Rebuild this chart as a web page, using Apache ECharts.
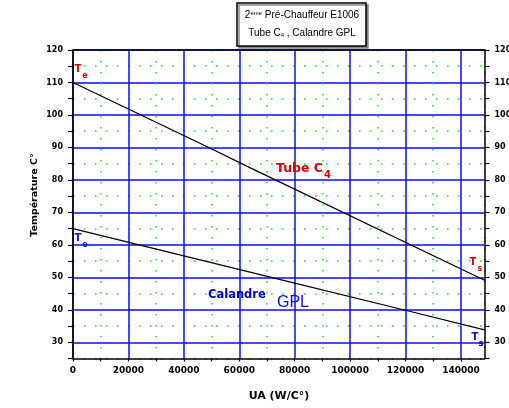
<!DOCTYPE html>
<html><head><meta charset="utf-8">
<script src="https://cdn.jsdelivr.net/npm/echarts@6/dist/echarts.min.js"></script>
<style>html,body{margin:0;padding:0;background:#fff}#c{width:509px;height:408px}</style>
</head><body><div id="c"></div>
<script>
// ---- data ----
const tubeUA   = [0, 49000, 64000, 148500];
const tubeTemp = [110, 90, 83.7, 49.1];
const calUA    = [0, 80000, 120700, 148500];
const calTemp  = [65, 48.2, 39.7, 33.8];
const xMin = 0, xMax = 148500, xStep = 10000, xLabelStep = 20000;
const yMin = 25, yMax = 120, yStep = 5, yLabelStep = 10;
const titleLine1 = ['2', 'ème', ' Pré-Chauffeur E1006'];
const titleLine2 = ['Tube C', '4', ' , Calandre GPL'];
const xName = 'UA (W/C°)';
const yName = 'Température C°';

const BLUE = '#0b0bff', GREEN = '#22e022', RED = '#e00000', TR = 'rgba(0,0,0,0)';
const BF = 'DejaVu Sans';

const chart = echarts.init(document.getElementById('c'), null, {renderer: 'canvas'});
const xLab = v => (v % xLabelStep === 0 ? String(v) : '');
const yLab = v => (Math.abs(v % yLabelStep) < 1e-9 ? String(v) : '');
const axisLineStyle = {color: '#000', width: 1.5};

chart.setOption({
  animation: false,
  grid: {left: 73, right: 24.5, top: 50, bottom: 49.5, containLabel: false, outerBoundsMode: 'none'},
  xAxis: [{
    type: 'value', position: 'bottom', min: xMin, max: xMax, interval: xStep,
    axisLine: {show: true, onZero: false, lineStyle: axisLineStyle},
    axisTick: {show: true, inside: false, length: 3, lineStyle: {color: '#000', width: 1.2}},
    axisLabel: {formatter: xLab, showMaxLabel: false, margin: 8, color: '#000', fontFamily: BF, fontWeight: 'bold', fontSize: 9},
    splitLine: {show: true, lineStyle: {color: [BLUE, TR], width: 1.5}}
  }, {
    type: 'value', position: 'top', min: xMin, max: xMax, interval: xStep,
    axisLine: {show: true, onZero: false, lineStyle: axisLineStyle},
    axisTick: {show: false}, axisLabel: {show: false},
    splitLine: {show: true, lineStyle: {color: [TR, GREEN], width: 1.5, type: [1.5, 9.5]}}
  }],
  yAxis: [{
    type: 'value', position: 'left', min: yMin, max: yMax, interval: yStep,
    axisLine: {show: true, onZero: false, lineStyle: axisLineStyle},
    axisTick: {show: true, inside: false, length: 5, lineStyle: {color: '#000', width: 1.2}},
    axisLabel: {formatter: yLab, margin: 10, color: '#000', fontFamily: BF, fontWeight: 'bold', fontSize: 8},
    splitLine: {show: true, lineStyle: {color: [TR, BLUE], width: 1.5}}
  }, {
    type: 'value', position: 'right', min: yMin, max: yMax, interval: yStep,
    axisLine: {show: true, onZero: false, lineStyle: axisLineStyle},
    axisTick: {show: true, inside: false, length: 5, lineStyle: {color: '#000', width: 1.2}},
    axisLabel: {formatter: yLab, margin: 10, color: '#000', fontFamily: BF, fontWeight: 'bold', fontSize: 8},
    splitLine: {show: true, lineStyle: {color: [GREEN, TR], width: 1.5, type: [1.5, 9.5]}}
  }],
  series: [{
    name: 'Tube C4', type: 'line', xAxisIndex: 0, yAxisIndex: 0, symbol: 'none', z: 5,
    lineStyle: {color: '#000', width: 1.2},
    data: tubeUA.map((x, i) => [x, tubeTemp[i]])
  }, {
    name: 'Calandre GPL', type: 'line', xAxisIndex: 0, yAxisIndex: 0, symbol: 'none', z: 5,
    lineStyle: {color: '#000', width: 1.2},
    data: calUA.map((x, i) => [x, calTemp[i]])
  }],
  graphic: [
    {type: 'rect', z: 10, shape: {x: 237, y: 3, width: 129, height: 43},
     style: {fill: '#fff', stroke: '#000', lineWidth: 1.5, shadowColor: '#888', shadowOffsetX: 2, shadowOffsetY: 2, shadowBlur: 0}},
    {type: 'text', z: 11, x: 302, y: 15, style: {
      text: '{n|' + titleLine1[0] + '}{sup|' + titleLine1[1] + '}{n|' + titleLine1[2] + '}',
      align: 'center', verticalAlign: 'middle',
      rich: {n: {fontFamily: 'Liberation Sans', fontSize: 10, fill: '#000', verticalAlign: 'bottom'},
             sup: {fontFamily: 'Liberation Sans', fontSize: 6, fill: '#000', verticalAlign: 'top'}}}},
    {type: 'text', z: 11, x: 302, y: 33, style: {
      text: '{n|' + titleLine2[0] + '}{sub|' + titleLine2[1] + '}{n|' + titleLine2[2] + '}',
      align: 'center', verticalAlign: 'middle',
      rich: {n: {fontFamily: 'Liberation Sans', fontSize: 10, fill: '#000', verticalAlign: 'top'},
             sub: {fontFamily: 'Liberation Sans', fontSize: 6, fill: '#000', verticalAlign: 'bottom'}}}},
    {type: 'text', z: 11, x: 279, y: 396, style: {text: xName, align: 'center', verticalAlign: 'middle',
      fontFamily: BF, fontWeight: 'bold', fontSize: 11, fill: '#000'}},
    {type: 'text', z: 11, x: 35, y: 195, rotation: Math.PI / 2, style: {text: yName, align: 'center', verticalAlign: 'middle',
      fontFamily: BF, fontWeight: 'bold', fontSize: 9.5, fill: '#000'}},
    // curve labels
    {type: 'text', z: 11, x: 276, y: 169, style: {text: 'Tube C', align: 'left', verticalAlign: 'middle',
      fontFamily: BF, fontWeight: 'bold', fontSize: 12.5, fill: RED}},
    {type: 'text', z: 11, x: 324, y: 175, style: {text: '4', align: 'left', verticalAlign: 'middle',
      fontFamily: BF, fontWeight: 'bold', fontSize: 10, fill: RED}},
    {type: 'text', z: 11, x: 208, y: 295, style: {text: 'Calandre', align: 'left', verticalAlign: 'middle',
      fontFamily: BF, fontWeight: 'bold', fontSize: 11.5, fill: '#0000cc'}},
    {type: 'text', z: 11, x: 277, y: 303, style: {text: 'GPL', align: 'left', verticalAlign: 'middle',
      fontFamily: 'Liberation Sans', fontSize: 16, fill: BLUE}},
    // T_e / T_s markers
    {type: 'text', z: 11, x: 78, y: 69, style: {text: 'T', align: 'center', verticalAlign: 'middle', fontFamily: BF, fontWeight: 'bold', fontSize: 10, fill: RED}},
    {type: 'text', z: 11, x: 85, y: 76, style: {text: 'e', align: 'center', verticalAlign: 'middle', fontFamily: BF, fontWeight: 'bold', fontSize: 8, fill: RED}},
    {type: 'text', z: 11, x: 473, y: 262, style: {text: 'T', align: 'center', verticalAlign: 'middle', fontFamily: BF, fontWeight: 'bold', fontSize: 10, fill: RED}},
    {type: 'text', z: 11, x: 480, y: 269, style: {text: 's', align: 'center', verticalAlign: 'middle', fontFamily: BF, fontWeight: 'bold', fontSize: 8, fill: RED}},
    {type: 'text', z: 11, x: 78, y: 238, style: {text: 'T', align: 'center', verticalAlign: 'middle', fontFamily: BF, fontWeight: 'bold', fontSize: 10, fill: BLUE}},
    {type: 'text', z: 11, x: 85, y: 245, style: {text: 'e', align: 'center', verticalAlign: 'middle', fontFamily: BF, fontWeight: 'bold', fontSize: 8, fill: BLUE}},
    {type: 'text', z: 11, x: 475, y: 337, style: {text: 'T', align: 'center', verticalAlign: 'middle', fontFamily: BF, fontWeight: 'bold', fontSize: 10, fill: BLUE}},
    {type: 'text', z: 11, x: 481, y: 344, style: {text: 's', align: 'center', verticalAlign: 'middle', fontFamily: BF, fontWeight: 'bold', fontSize: 8, fill: '#0000aa'}}
  ]
});
</script></body></html>
